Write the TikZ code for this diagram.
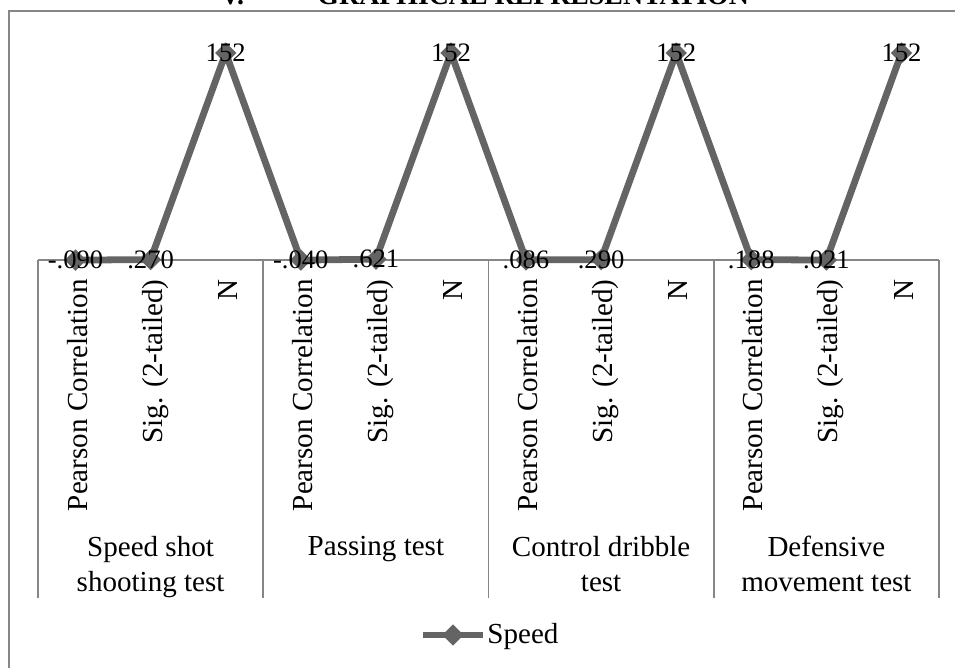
\documentclass[tikz,border=0pt]{standalone}
\usepackage{fontspec}
\setmainfont{Liberation Serif}
\usepackage{xcolor}
\usetikzlibrary{shapes.geometric}
\definecolor{speedgray}{RGB}{100,100,100}
\definecolor{framegray}{RGB}{134,134,134}

\begin{document}
\begin{tikzpicture}[
    x=0.413pt, y=-0.413pt,
    frame/.style={draw=framegray, line width=0.8pt},
    axisline/.style={draw=framegray, line width=0.8pt},
    series/.style={draw=speedgray, line width=2.8pt, line join=round},
    marker/.style={diamond, fill=speedgray, inner sep=0pt, minimum width=9pt, minimum height=9pt},
    value/.style={inner sep=0pt, font=\fontsize{11}{13}\selectfont},
    sublabel/.style={rotate=90, anchor=base east, inner sep=0pt, font=\fontsize{12}{14.4}\selectfont},
    catlabel/.style={align=center, anchor=north, inner sep=0pt, font=\fontsize{12}{14.4}\selectfont},
    heading/.style={anchor=base west, inner sep=0pt, font=\fontsize{11.5}{13.8}\selectfont\bfseries},
]
    \useasboundingbox (0,0) rectangle (955,668);

    % Heading (cut by the page edge)
    \node[heading] (titlenum) at (220,5) {V.};
    \node[heading] (title) at (317,5) {GRAPHICAL REPRESENTATION};

    % Chart frame
    \draw[frame] (9,11) rectangle (980,700);

    % Category axis
    \draw[axisline] (38,260) -- (939,260);
    \draw[axisline] (38,260) -- (38,598);
    \draw[axisline] (263.25,260) -- (263.25,598);
    \draw[axisline] (488.5,260) -- (488.5,598);
    \draw[axisline] (713.75,260) -- (713.75,598);
    \draw[axisline] (939,260) -- (939,598);

    % Sub-category labels
    \node[sublabel] (pc1) at (87,279) {Pearson Correlation};
    \node[sublabel] (sig1) at (162.1,279) {Sig. (2-tailed)};
    \node[sublabel] (n1) at (237.2,279) {N};
    \node[sublabel] (pc2) at (312.3,279) {Pearson Correlation};
    \node[sublabel] (sig2) at (387.4,279) {Sig. (2-tailed)};
    \node[sublabel] (n2) at (462.5,279) {N};
    \node[sublabel] (pc3) at (537.5,279) {Pearson Correlation};
    \node[sublabel] (sig3) at (612.6,279) {Sig. (2-tailed)};
    \node[sublabel] (n3) at (687.7,279) {N};
    \node[sublabel] (pc4) at (762.8,279) {Pearson Correlation};
    \node[sublabel] (sig4) at (837.9,279) {Sig. (2-tailed)};
    \node[sublabel] (n4) at (913,279) {N};

    % Category labels
    \node[catlabel] (shot) at (150.6,536) {Speed shot\\shooting test};
    \node[catlabel] (passing) at (375.9,536) {Passing test};
    \node[catlabel] (dribble) at (601.1,536) {Control dribble\\test};
    \node[catlabel] (defence) at (826.4,536) {Defensive\\movement test};

    % Speed series
    \coordinate (s1) at (75.5,260.1);
    \coordinate (s2) at (150.6,259.6);
    \coordinate (s3) at (225.7,53);
    \coordinate (s4) at (300.8,260.1);
    \coordinate (s5) at (375.9,259.2);
    \coordinate (s6) at (451,53);
    \coordinate (s7) at (526,259.9);
    \coordinate (s8) at (601.1,259.6);
    \coordinate (s9) at (676.2,53);
    \coordinate (s10) at (751.3,259.7);
    \coordinate (s11) at (826.4,260);
    \coordinate (s12) at (901.5,53);
    \draw[series] (s1) -- (s2) -- (s3) -- (s4) -- (s5) -- (s6)
        -- (s7) -- (s8) -- (s9) -- (s10) -- (s11) -- (s12);

    \node[marker] (m1) at (s1) {};
    \node[marker] (m2) at (s2) {};
    \node[marker] (m3) at (s3) {};
    \node[marker] (m4) at (s4) {};
    \node[marker] (m5) at (s5) {};
    \node[marker] (m6) at (s6) {};
    \node[marker] (m7) at (s7) {};
    \node[marker] (m8) at (s8) {};
    \node[marker] (m9) at (s9) {};
    \node[marker] (m10) at (s10) {};
    \node[marker] (m11) at (s11) {};
    \node[marker] (m12) at (s12) {};

    % Data labels
    \node[value] (v1) at (s1) {-.090};
    \node[value] (v2) at (s2) {.270};
    \node[value] (v3) at (s3) {152};
    \node[value] (v4) at (s4) {-.040};
    \node[value] (v5) at (s5) {.621};
    \node[value] (v6) at (s6) {152};
    \node[value] (v7) at (s7) {.086};
    \node[value] (v8) at (s8) {.290};
    \node[value] (v9) at (s9) {152};
    \node[value] (v10) at (s10) {.188};
    \node[value] (v11) at (s11) {.021};
    \node[value] (v12) at (s12) {152};

    % Legend
    \coordinate (legstart) at (423,635);
    \coordinate (legend) at (483,635);
    \draw[series] (legstart) -- (legend);
    \node[marker] (legmark) at (453,635) {};
    \node[anchor=base west, inner sep=0pt, font=\fontsize{12}{14.4}\selectfont] (legtext) at (487,643) {Speed};
\end{tikzpicture}
\end{document}
